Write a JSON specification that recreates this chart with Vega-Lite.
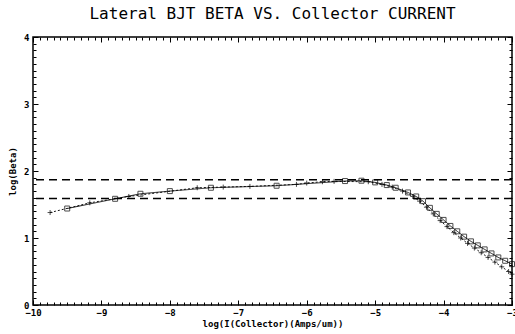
{
  "$schema": "https://vega.github.io/schema/vega-lite/v6.json",
  "width": 479,
  "height": 268,
  "autosize": {"type": "none"},
  "padding": {"left": 33, "top": 37, "right": 3, "bottom": 29},
  "background": "white",
  "title": {"text": "Lateral BJT BETA VS. Collector CURRENT", "font": "DejaVu Sans Mono", "fontSize": 16, "fontWeight": "normal", "color": "black", "anchor": "middle", "offset": 11},
  "config": {
    "view": {"stroke": "black", "strokeWidth": 1.5},
    "axis": {"grid": false, "domain": false, "tickColor": "black", "labelColor": "black", "titleColor": "black", "labelFont": "DejaVu Sans Mono", "titleFont": "DejaVu Sans Mono", "labelFontSize": 9, "titleFontSize": 9, "labelFontWeight": "bold", "titleFontWeight": "bold", "labelOverlap": false, "labelFlush": false, "tickWidth": 1}
  },
  "datasets": {
    "curves": [
      {"series": "A", "x": -9.5, "y": 1.44},
      {"series": "A", "x": -8.8, "y": 1.585},
      {"series": "A", "x": -8.43, "y": 1.66},
      {"series": "A", "x": -8.0, "y": 1.70},
      {"series": "A", "x": -7.4, "y": 1.75},
      {"series": "A", "x": -6.44, "y": 1.78},
      {"series": "A", "x": -5.44, "y": 1.85},
      {"series": "A", "x": -5.2, "y": 1.855},
      {"series": "A", "x": -5.0, "y": 1.83},
      {"series": "A", "x": -4.83, "y": 1.79},
      {"series": "A", "x": -4.7, "y": 1.75},
      {"series": "A", "x": -4.52, "y": 1.68},
      {"series": "A", "x": -4.4, "y": 1.62},
      {"series": "A", "x": -4.3, "y": 1.55},
      {"series": "A", "x": -4.2, "y": 1.45},
      {"series": "A", "x": -4.1, "y": 1.36},
      {"series": "A", "x": -4.0, "y": 1.27},
      {"series": "A", "x": -3.9, "y": 1.18},
      {"series": "A", "x": -3.8, "y": 1.10},
      {"series": "A", "x": -3.7, "y": 1.02},
      {"series": "A", "x": -3.6, "y": 0.95},
      {"series": "A", "x": -3.5, "y": 0.89},
      {"series": "A", "x": -3.4, "y": 0.83},
      {"series": "A", "x": -3.3, "y": 0.77},
      {"series": "A", "x": -3.2, "y": 0.71},
      {"series": "A", "x": -3.1, "y": 0.66},
      {"series": "A", "x": -3.0, "y": 0.61},
      {"series": "B", "x": -9.75, "y": 1.38},
      {"series": "B", "x": -9.17, "y": 1.525},
      {"series": "B", "x": -8.6, "y": 1.62},
      {"series": "B", "x": -7.6, "y": 1.75},
      {"series": "B", "x": -7.22, "y": 1.76},
      {"series": "B", "x": -6.83, "y": 1.77},
      {"series": "B", "x": -6.15, "y": 1.80},
      {"series": "B", "x": -6.0, "y": 1.82},
      {"series": "B", "x": -5.77, "y": 1.84},
      {"series": "B", "x": -5.6, "y": 1.845},
      {"series": "B", "x": -5.1, "y": 1.84},
      {"series": "B", "x": -4.9, "y": 1.80},
      {"series": "B", "x": -4.75, "y": 1.76},
      {"series": "B", "x": -4.6, "y": 1.70},
      {"series": "B", "x": -4.45, "y": 1.62},
      {"series": "B", "x": -4.35, "y": 1.55},
      {"series": "B", "x": -4.25, "y": 1.46},
      {"series": "B", "x": -4.15, "y": 1.36},
      {"series": "B", "x": -4.05, "y": 1.26},
      {"series": "B", "x": -3.95, "y": 1.17},
      {"series": "B", "x": -3.85, "y": 1.08},
      {"series": "B", "x": -3.75, "y": 1.00},
      {"series": "B", "x": -3.65, "y": 0.92},
      {"series": "B", "x": -3.55, "y": 0.85},
      {"series": "B", "x": -3.45, "y": 0.78},
      {"series": "B", "x": -3.35, "y": 0.71},
      {"series": "B", "x": -3.25, "y": 0.64},
      {"series": "B", "x": -3.15, "y": 0.57},
      {"series": "B", "x": -3.05, "y": 0.50},
      {"series": "B", "x": -3.0, "y": 0.46}
    ],
    "refs": [{"y": 1.87}, {"y": 1.59}]
  },
  "layer": [
    {
      "data": {"name": "refs"},
      "mark": {"type": "rule", "color": "black", "strokeWidth": 1.5, "strokeDash": [8, 5]},
      "encoding": {
        "y": {"field": "y", "type": "quantitative", "scale": {"domain": [0, 4], "nice": false, "zero": false}, "axis": null}
      }
    },
    {
      "data": {"name": "curves"},
      "mark": {"type": "line", "color": "black", "strokeWidth": 0.9},
      "encoding": {
        "x": {"field": "x", "type": "quantitative", "scale": {"domain": [-10, -3], "nice": false, "zero": false},
          "axis": {"orient": "bottom", "title": "log(I(Collector)(Amps/um))", "titlePadding": 0,
            "values": [-10,-9.9,-9.8,-9.7,-9.6,-9.5,-9.4,-9.3,-9.2,-9.1,-9,-8.9,-8.8,-8.7,-8.6,-8.5,-8.4,-8.3,-8.2,-8.1,-8,-7.9,-7.8,-7.7,-7.6,-7.5,-7.4,-7.3,-7.2,-7.1,-7,-6.9,-6.8,-6.7,-6.6,-6.5,-6.4,-6.3,-6.2,-6.1,-6,-5.9,-5.8,-5.7,-5.6,-5.5,-5.4,-5.3,-5.2,-5.1,-5,-4.9,-4.8,-4.7,-4.6,-4.5,-4.4,-4.3,-4.2,-4.1,-4,-3.9,-3.8,-3.7,-3.6,-3.5,-3.4,-3.3,-3.2,-3.1,-3],
            "labelExpr": "abs(datum.value - round(datum.value)) < 0.001 ? format(datum.value, 'd') : ''",
            "tickSize": {"condition": {"test": "abs(datum.value - round(datum.value)) < 0.001", "value": -5}, "value": -3},
            "labelPadding": 8}},
        "y": {"field": "y", "type": "quantitative", "scale": {"domain": [0, 4], "nice": false, "zero": false},
          "axis": {"orient": "left", "title": "log(Beta)", "titlePadding": 6,
            "values": [0,0.1,0.2,0.3,0.4,0.5,0.6,0.7,0.8,0.9,1,1.1,1.2,1.3,1.4,1.5,1.6,1.7,1.8,1.9,2,2.1,2.2,2.3,2.4,2.5,2.6,2.7,2.8,2.9,3,3.1,3.2,3.3,3.4,3.5,3.6,3.7,3.8,3.9,4],
            "labelExpr": "abs(datum.value - round(datum.value)) < 0.001 ? format(datum.value, 'd') : ''",
            "tickSize": {"condition": {"test": "abs(datum.value - round(datum.value)) < 0.001", "value": -5}, "value": -3},
            "labelPadding": 9}},
        "detail": {"field": "series"},
        "strokeDash": {"field": "series", "type": "nominal", "scale": {"domain": ["A", "B"], "range": [[1, 0], [2, 2]]}, "legend": null}
      }
    },
    {
      "data": {"name": "curves"},
      "mark": {"type": "point", "color": "black", "filled": false, "strokeWidth": 1, "size": 25},
      "encoding": {
        "x": {"field": "x", "type": "quantitative", "scale": {"domain": [-10, -3], "nice": false, "zero": false},
          "axis": {"orient": "top", "title": null, "labels": false,
            "values": [-10,-9.9,-9.8,-9.7,-9.6,-9.5,-9.4,-9.3,-9.2,-9.1,-9,-8.9,-8.8,-8.7,-8.6,-8.5,-8.4,-8.3,-8.2,-8.1,-8,-7.9,-7.8,-7.7,-7.6,-7.5,-7.4,-7.3,-7.2,-7.1,-7,-6.9,-6.8,-6.7,-6.6,-6.5,-6.4,-6.3,-6.2,-6.1,-6,-5.9,-5.8,-5.7,-5.6,-5.5,-5.4,-5.3,-5.2,-5.1,-5,-4.9,-4.8,-4.7,-4.6,-4.5,-4.4,-4.3,-4.2,-4.1,-4,-3.9,-3.8,-3.7,-3.6,-3.5,-3.4,-3.3,-3.2,-3.1,-3],
            "tickSize": {"condition": {"test": "abs(datum.value - round(datum.value)) < 0.001", "value": -5}, "value": -3}}},
        "y": {"field": "y", "type": "quantitative", "scale": {"domain": [0, 4], "nice": false, "zero": false},
          "axis": {"orient": "right", "title": null, "labels": false,
            "values": [0,0.1,0.2,0.3,0.4,0.5,0.6,0.7,0.8,0.9,1,1.1,1.2,1.3,1.4,1.5,1.6,1.7,1.8,1.9,2,2.1,2.2,2.3,2.4,2.5,2.6,2.7,2.8,2.9,3,3.1,3.2,3.3,3.4,3.5,3.6,3.7,3.8,3.9,4],
            "tickSize": {"condition": {"test": "abs(datum.value - round(datum.value)) < 0.001", "value": -5}, "value": -3}}},
        "shape": {"field": "series", "type": "nominal", "scale": {"domain": ["A", "B"], "range": ["square", "M-1,0H1M0,-1V1"]}, "legend": null}
      }
    }
  ],
  "resolve": {"axis": {"x": "independent", "y": "independent"}}
}
